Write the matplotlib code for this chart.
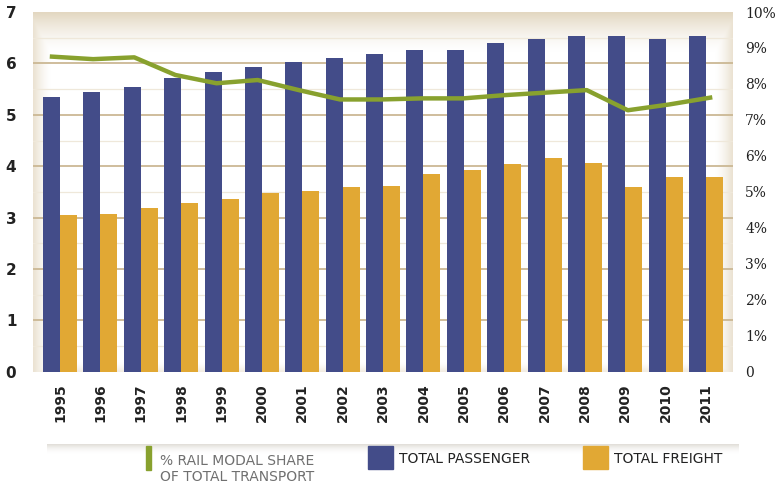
import numpy as np
import matplotlib.pyplot as plt
from matplotlib.patches import Rectangle

years = ["1995", "1996", "1997", "1998", "1999", "2000", "2001", "2002", "2003",
         "2004", "2005", "2006", "2007", "2008", "2009", "2010", "2011"]
passenger = [5.35, 5.45, 5.55, 5.71, 5.84, 5.93, 6.03, 6.11, 6.18,
             6.26, 6.26, 6.39, 6.48, 6.54, 6.54, 6.48, 6.54]
freight = [3.06, 3.07, 3.18, 3.28, 3.36, 3.48, 3.52, 3.59, 3.62,
           3.85, 3.93, 4.05, 4.16, 4.07, 3.60, 3.79, 3.79]
rail_share = [8.76, 8.69, 8.74, 8.25, 8.02, 8.11, 7.83, 7.57, 7.57,
              7.60, 7.60, 7.69, 7.76, 7.83, 7.27, 7.43, 7.62]

c_pass = "#434c89"
c_frt = "#e1a834"
c_line = "#88a12e"
c_grid = "#cbb894"

fig = plt.figure(figsize=(7.77, 4.9), dpi=100)
ax = fig.add_axes([0.0425, 0.241, 0.9005, 0.7345])
x = np.arange(len(years))

# beige fading frame behind the plot
h, w = 200, 400
yy, xx = np.mgrid[0:h, 0:w]
edge = np.maximum.reduce([np.clip(1 - yy / 22.0, 0, 1),
                          np.clip(1 - xx / 10.0, 0, 1) * 0.8,
                          np.clip(1 - (w - 1 - xx) / 10.0, 0, 1) * 0.8,
                          np.clip(1 - (h - 1 - yy) / 5.0, 0, 1) * 0.6])
img = np.zeros((h, w, 4))
img[..., 0], img[..., 1], img[..., 2] = 0.88, 0.83, 0.73
img[..., 3] = edge ** 1.5 * 0.9
ax.imshow(img, extent=(-0.67, 16.66, 0, 7), aspect="auto", zorder=0, interpolation="bilinear")

for v in range(1, 7):
    ax.axhline(v, color=c_grid, lw=1.3, zorder=1)
    ax.axhline(v - 0.5, color="#efe8da", lw=0.9, zorder=1)
ax.axhline(6.5, color="#efe8da", lw=0.9, zorder=1)

ax.bar(x - 0.21, passenger, width=0.42, color=c_pass, zorder=2)
ax.bar(x + 0.21, freight, width=0.42, color=c_frt, zorder=2)

ax.set_xlim(-0.67, 16.66)
ax.set_ylim(0, 7)
ax.set_yticks(range(0, 8))
ax.set_yticklabels([str(v) for v in range(0, 8)], fontsize=11, fontweight="bold", color="#222222")
ax.set_xticks(x)
ax.set_xticklabels(years, rotation=90, fontsize=10, fontweight="bold", color="#222222")
ax.tick_params(length=0, pad=8)
ax.tick_params(axis="y", pad=12)
for s in ax.spines.values():
    s.set_visible(False)

# line points sit a little off the group centres in the original
xl = np.linspace(-0.2, 16.1, len(years))
ax2 = ax.twinx()
ax2.plot(xl, rail_share, color=c_line, lw=3.2, zorder=3)
ax2.set_ylim(0, 10)
ax2.set_yticks(range(0, 11))
ax2.set_yticklabels(["0"] + [f"{v}%" for v in range(1, 11)], fontsize=10,
                    family="DejaVu Serif", color="#222222")
ax2.tick_params(length=0, pad=9)
for s in ax2.spines.values():
    s.set_visible(False)

# legend strip at the bottom
band = np.linspace(0, 1, 50).reshape(-1, 1)
lax = fig.add_axes([0.06, 0.072, 0.89, 0.022])
shade = np.zeros((50, 1, 4))
shade[..., 0], shade[..., 1], shade[..., 2] = 0.8, 0.78, 0.74
shade[..., 3] = band[::-1] ** 2 * 0.6
lax.imshow(shade, aspect="auto", extent=(0, 1, 0, 1))
lax.axis("off")

fig.patches.append(Rectangle((146 / 777, 1 - 470 / 490), 5 / 777, 24 / 490,
                             transform=fig.transFigure, color=c_line))
fig.text(160 / 777, 1 - 469 / 490, "% RAIL MODAL SHARE\nOF TOTAL TRANSPORT",
         fontsize=10, color="#707070", va="center", ha="left", linespacing=1.1)
fig.patches.append(Rectangle((368 / 777, 1 - 469 / 490), 25 / 777, 23 / 490,
                             transform=fig.transFigure, color=c_pass))
fig.text(399 / 777, 1 - 459 / 490, "TOTAL PASSENGER", fontsize=10, color="#222222",
         va="center", ha="left")
fig.patches.append(Rectangle((583 / 777, 1 - 469 / 490), 25 / 777, 23 / 490,
                             transform=fig.transFigure, color=c_frt))
fig.text(614 / 777, 1 - 459 / 490, "TOTAL FREIGHT", fontsize=10, color="#222222",
         va="center", ha="left")

fig.savefig("out.png", dpi=100)
